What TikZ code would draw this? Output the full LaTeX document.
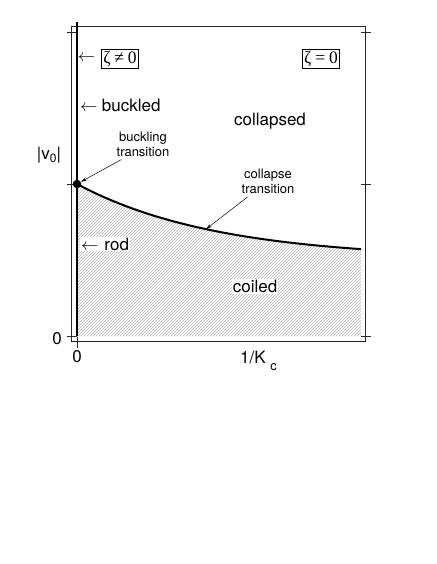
\documentclass[tikz,border=0pt]{standalone}
\usepackage{fontspec}
\setmainfont{TeX Gyre Heros}
\newfontfamily\zetafont{Liberation Serif}
\usetikzlibrary{patterns,arrows.meta}

\begin{document}
\begin{tikzpicture}[x=1pt,y=-1pt,
  every node/.style={font=\fontsize{17}{20}\selectfont},
  phase/.style={inner sep=1pt},
  tag/.style={font=\fontsize{13}{15}\selectfont, align=center, inner sep=0pt},
  zetabox/.style={draw, line width=0.6pt, font=\zetafont\fontsize{17.5}{19}\selectfont, inner sep=1.6pt},
  pointer/.style={-{Stealth[length=6pt,width=3.2pt]}, line width=0.5pt},
  tick/.style={line width=0.7pt, black!85}]
\useasboundingbox (0,0) rectangle (436,564);
% coiled region under the collapse line
\fill[pattern=north east lines, pattern color=gray!60] (77,336) --
  plot[domain=77:361,samples=60] (\x,{184+75*(1-exp(-(\x-77)/140))}) -- (361,336) -- cycle;
% frame and ticks
\draw[tick] (71.7,26) rectangle (365.7,341.7);
\foreach \yy in {32,184,336} {
  \draw[tick] (67,\yy) -- (77,\yy);
  \draw[tick] (361,\yy) -- (371,\yy);
}
\draw[tick] (77,337) -- (77,348);
% zeta != 0 line and collapse line
\draw[line width=2.4pt] (77,22) -- (77,336);
\draw[line width=2pt] plot[domain=77:361,samples=60] (\x,{184+75*(1-exp(-(\x-77)/140))});
\node[circle, fill, inner sep=0pt, minimum size=8.5pt] (dot) at (77,184) {};
\coordinate (hit) at (206,229.1);
% axes labels
\node (vlab) at (49,155) {|v\raisebox{-3.5pt}{\fontsize{12}{12}\selectfont 0}|};
\node (yzero) at (57,339) {0};
\node (xzero) at (77,357) {0};
\node (xlab) at (253,357) {1/K};
\node[font=\fontsize{13}{13}\selectfont] (xsub) at (273.5,367) {c};
% boxes
\node[inner sep=0pt, font=\fontsize{16}{16}\selectfont] (zarr) at (86.5,58) {$\leftarrow$};
\node[zetabox] (zne) at (120,59) {ζ\:≠\:0};
\node[zetabox] (zeq) at (321,59) {ζ\:=\:0};
% phases
\node[phase, anchor=base west] (buck) at (79,112)
  {{\fontsize{16}{16}\selectfont$\leftarrow$}\hspace{4.5pt}buckled};
\node[phase, anchor=base] (coll) at (270,126) {collapsed};
\node[phase, anchor=base, fill=white] (coil) at (255,292.5) {coiled};
\node[phase, anchor=base west, fill=white] (rod) at (80,250)
  {{\fontsize{16}{16}\selectfont$\leftarrow$}\hspace{6pt}rod};
% transitions
\node[tag] (bt) at (143,144) {buckling\\transition};
\node[tag] (ct) at (268,181.5) {collapse\\transition};
\draw[pointer] ([xshift=5pt,yshift=-3pt]bt.south west) -- (dot);
\draw[pointer] ([xshift=6pt,yshift=-3pt]ct.south west) -- (hit);
\end{tikzpicture}
\end{document}
